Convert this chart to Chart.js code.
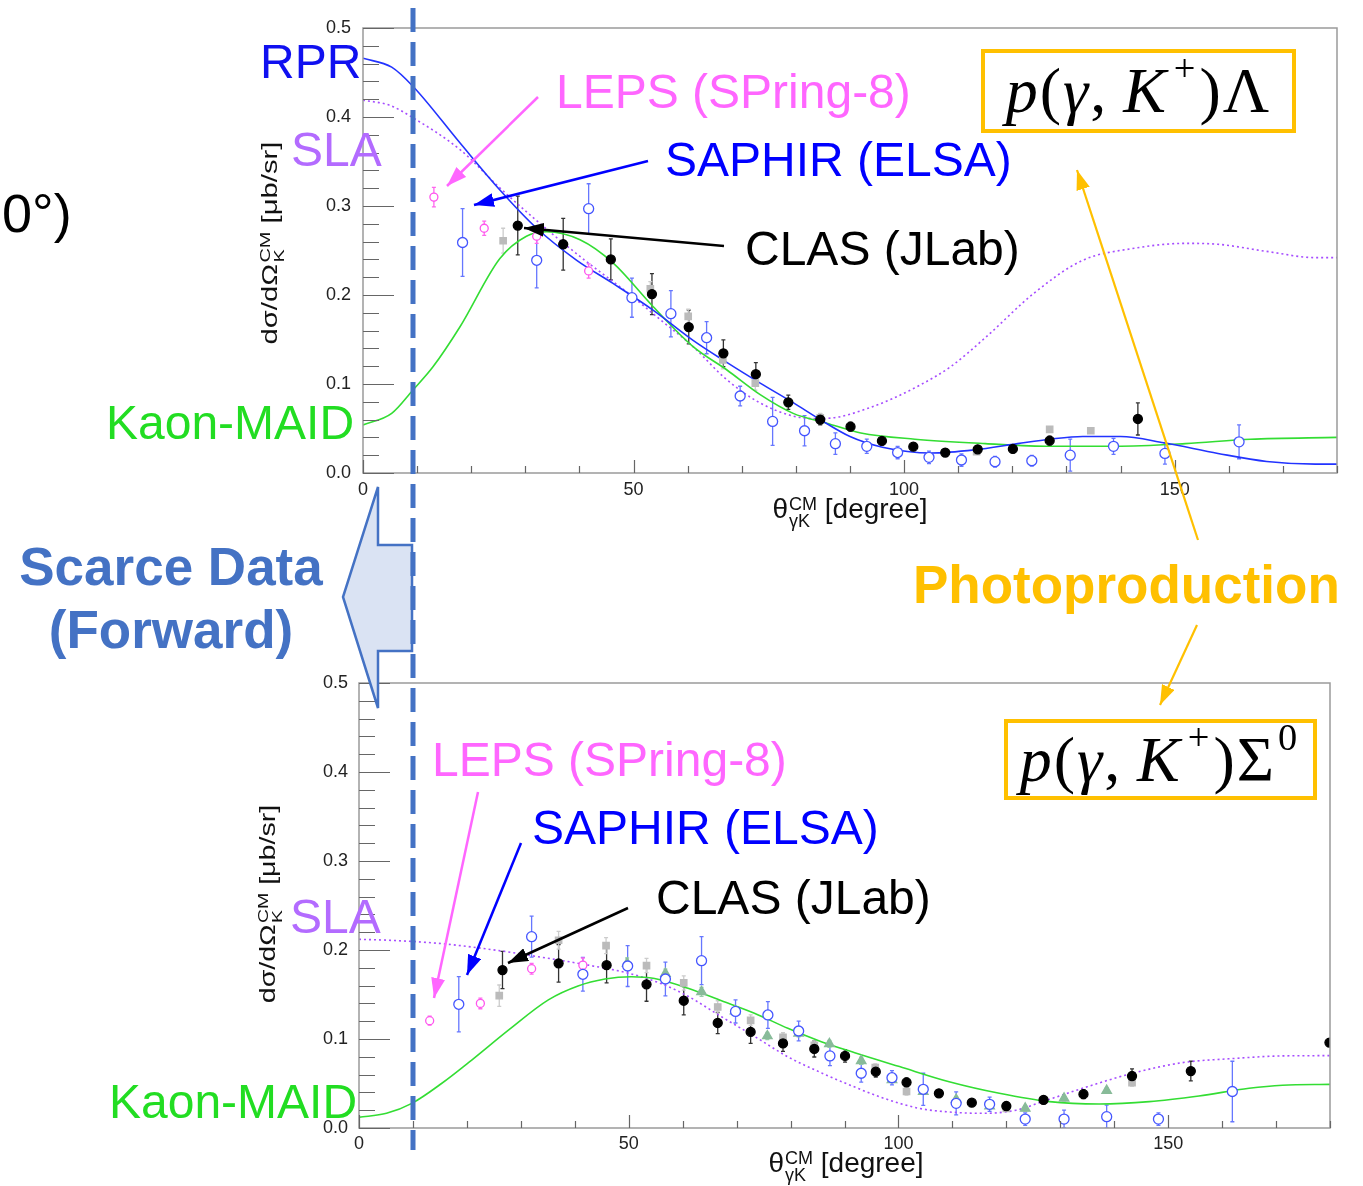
<!DOCTYPE html>
<html><head><meta charset="utf-8">
<script src="https://cdn.jsdelivr.net/npm/chart.js@4.4.0/dist/chart.umd.min.js"></script>
<style>
html,body{margin:0;padding:0;background:#fff;}
body{width:1363px;height:1186px;position:relative;overflow:hidden;font-family:"Liberation Sans",Arial,sans-serif;}
canvas{position:absolute;left:0;}
#c1{top:0;} #c2{top:600px;}
#ov{position:absolute;left:0;top:0;}
.t{position:absolute;white-space:nowrap;line-height:1;font-size:48px;}
.b{font-weight:bold;font-size:53px;}
.mbox{position:absolute;box-sizing:border-box;border:4px solid #FFC000;background:#fff;display:flex;align-items:center;justify-content:center;font-family:"Liberation Serif","DejaVu Serif",serif;font-size:64px;line-height:1;color:#000;letter-spacing:2px;}
.mbox i{font-style:italic;}
.mbox sup{font-size:0.6em;vertical-align:0.8em;line-height:0;margin-left:6px;margin-right:2px;}
.ax{position:absolute;white-space:nowrap;font-size:28px;line-height:1;color:#111;}
.stk{display:inline-block;font-size:18px;line-height:17px;vertical-align:-9px;text-align:left;margin-left:1px;}
.stk span{display:block;}
.ay{position:absolute;white-space:nowrap;font-size:22px;line-height:1;color:#111;}
.ay .stk{font-size:15px;line-height:14px;vertical-align:-7px;}
</style></head><body>
<canvas id="c1" width="1363" height="540"></canvas>
<canvas id="c2" width="1363" height="586"></canvas>

<svg id="ov" width="1363" height="1186" xmlns="http://www.w3.org/2000/svg">
<defs>
<marker id="mPink" viewBox="0 0 10 7" refX="10" refY="3.5" markerWidth="8" markerHeight="5.6" orient="auto" markerUnits="strokeWidth"><path d="M0,0 L10,3.5 L0,7 z" fill="#FF66FF"/></marker>
<marker id="mBlue" viewBox="0 0 10 7" refX="10" refY="3.5" markerWidth="8" markerHeight="5.6" orient="auto" markerUnits="strokeWidth"><path d="M0,0 L10,3.5 L0,7 z" fill="#0000FF"/></marker>
<marker id="mBlack" viewBox="0 0 10 7" refX="10" refY="3.5" markerWidth="8" markerHeight="5.6" orient="auto" markerUnits="strokeWidth"><path d="M0,0 L10,3.5 L0,7 z" fill="#000"/></marker>
<marker id="mOr" viewBox="0 0 10 7" refX="10" refY="3.5" markerWidth="9" markerHeight="6.3" orient="auto" markerUnits="strokeWidth"><path d="M0,0 L10,3.5 L0,7 z" fill="#FFC000"/></marker>
</defs>
<polygon points="378,487 378,545 412,545 412,651 378,651 378,708 343,597" fill="#DAE3F3" stroke="#4472C4" stroke-width="2.5" stroke-linejoin="miter"/>
<line x1="413" y1="8" x2="413" y2="1150" stroke="#4472C4" stroke-width="5" stroke-dasharray="24 10"/>
<line x1="538" y1="97" x2="447" y2="186" stroke="#FF66FF" stroke-width="2.5" marker-end="url(#mPink)"/>
<line x1="648" y1="161" x2="474" y2="205" stroke="#0000FF" stroke-width="2.5" marker-end="url(#mBlue)"/>
<line x1="724" y1="246" x2="524" y2="228" stroke="#000" stroke-width="2.5" marker-end="url(#mBlack)"/>
<line x1="1198" y1="540" x2="1077" y2="170" stroke="#FFC000" stroke-width="2.2" marker-end="url(#mOr)"/>
<line x1="1197" y1="625" x2="1160" y2="705" stroke="#FFC000" stroke-width="2.2" marker-end="url(#mOr)"/>
<line x1="478" y1="792" x2="434" y2="998" stroke="#FF66FF" stroke-width="2.5" marker-end="url(#mPink)"/>
<line x1="521" y1="843" x2="467" y2="975" stroke="#0000FF" stroke-width="2.5" marker-end="url(#mBlue)"/>
<line x1="628" y1="908" x2="508" y2="963" stroke="#000" stroke-width="2.5" marker-end="url(#mBlack)"/>
</svg>

<div class="mbox" style="left:981px;top:49px;width:315px;height:84px;"><span><i>p</i>(<i>γ</i>,&#8201;<i>K</i><sup>+</sup>)Λ</span></div>
<div class="mbox" style="left:1004px;top:719px;width:313px;height:81px;"><span><i>p</i>(<i>γ</i>,&#8201;<i>K</i><sup>+</sup>)Σ<sup style="margin-left:2px">0</sup></span></div>

<div class="t" style="left:2px;top:186px;color:#000;font-size:54px;">0°)</div>
<div class="t" style="left:260px;top:38px;color:#1010F0;">RPR</div>
<div class="t" style="left:291px;top:126px;color:#B36BFF;">SLA</div>
<div class="t" style="left:106px;top:399px;color:#22DD22;">Kaon-MAID</div>
<div class="t" style="left:556px;top:68px;color:#FF66FF;">LEPS (SPring-8)</div>
<div class="t" style="left:665px;top:136px;color:#0000FF;">SAPHIR (ELSA)</div>
<div class="t" style="left:745px;top:225px;color:#000;">CLAS (JLab)</div>
<div class="t b" style="left:913px;top:558px;color:#FFC000;">Photoproduction</div>
<div class="t b" style="left:0px;width:342px;text-align:center;top:540px;color:#4472C4;">Scarce Data</div>
<div class="t b" style="left:0px;width:342px;text-align:center;top:603px;color:#4472C4;">(Forward)</div>
<div class="t" style="left:432px;top:736px;color:#FF66FF;">LEPS (SPring-8)</div>
<div class="t" style="left:532px;top:804px;color:#0000FF;">SAPHIR (ELSA)</div>
<div class="t" style="left:656px;top:874px;color:#000;">CLAS (JLab)</div>
<div class="t" style="left:290px;top:893px;color:#B36BFF;">SLA</div>
<div class="t" style="left:109px;top:1078px;color:#22DD22;">Kaon-MAID</div>

<div class="ax" style="left:850px;top:512px;transform:translate(-50%,-50%);">θ<span class="stk"><span>CM</span><span>γK</span></span> [degree]</div>
<div class="ax" style="left:846px;top:1166px;transform:translate(-50%,-50%);">θ<span class="stk"><span>CM</span><span>γK</span></span> [degree]</div>
<div class="ay" style="left:272px;top:243px;transform:translate(-50%,-50%) rotate(-90deg) scale(1.33,1);">dσ/dΩ<span class="stk"><span>CM</span><span>K</span></span> [μb/sr]</div>
<div class="ay" style="left:270px;top:904px;transform:translate(-50%,-50%) rotate(-90deg) scale(1.3,1);">dσ/dΩ<span class="stk"><span>CM</span><span>K</span></span> [μb/sr]</div>

<script>
// ---------- p(γ,K+)Λ (top) ----------
const thetaRPR_L = [0,5.3,9.3,17.9,25.3,32.1,39.5,46.2,53.6,61,67.3,73.4,79.5,84.5,90,96,105,113,121,127,133,140,148,158,167,176,180];
const rprL       = [0.466,0.456,0.434,0.371,0.318,0.275,0.239,0.213,0.183,0.149,0.124,0.101,0.079,0.060,0.041,0.029,0.0225,0.026,0.033,0.038,0.041,0.041,0.034,0.022,0.013,0.010,0.010];
const thetaSLA_L = [0,5,9,18,25,32,41,49,55,61,67,73,79.5,84,88,93,98,103,108.5,115,124,133,142,152,158,167,176,180];
const slaL       = [0.419,0.413,0.400,0.363,0.322,0.284,0.239,0.202,0.172,0.142,0.106,0.080,0.064,0.061,0.063,0.072,0.084,0.099,0.119,0.152,0.202,0.239,0.252,0.258,0.257,0.249,0.242,0.242];
const thetaMAID_L= [0,5.3,9.2,12.9,17.9,25.3,30.2,33.9,40.1,46.2,53.6,61,67.2,73.4,79.5,85.7,92,102,115,127,139,152,164,180];
const maidL      = [0.054,0.067,0.093,0.119,0.164,0.241,0.266,0.271,0.262,0.236,0.187,0.142,0.116,0.088,0.067,0.056,0.045,0.038,0.033,0.030,0.030,0.033,0.038,0.040];

const lepsL_x = [13.1,22.4,32.1,41.7];
const lepsL_y = [0.310,0.275,0.266,0.227];
const lepsL_e = [0.011,0.008,0.008,0.008];
const saphL_x = [18.4,32.1,41.7,49.7,56.9,63.5,69.7,75.7,81.6,87.3,93.1,98.8,104.6,110.6,116.8,123.6,130.7,138.7,148.2,161.9];
const saphL_y = [0.259,0.239,0.297,0.197,0.179,0.152,0.0865,0.058,0.0475,0.033,0.030,0.023,0.0176,0.0146,0.0127,0.0138,0.020,0.030,0.022,0.035];
const saphL_e = [0.038,0.031,0.028,0.022,0.026,0.018,0.011,0.027,0.017,0.012,0.008,0.007,0.007,0.007,0.006,0.006,0.018,0.009,0.012,0.019];
const clasL_x = [28.6,37.0,45.8,53.4,60.2,66.6,72.6,78.6,84.5,90.1,95.9,101.7,107.6,113.6,120.1,126.9,143.2];
const clasL_y = [0.278,0.257,0.240,0.201,0.164,0.1345,0.111,0.0794,0.060,0.052,0.036,0.0296,0.023,0.0266,0.027,0.0363,0.0607];
const clasL_e = [0.033,0.029,0.023,0.023,0.019,0.015,0.013,0.008,0.006,0.005,0.004,0.004,0.004,0.004,0.004,0.005,0.018];
const clas2L_x = [25.9,53.1,60.1,66.5,72.5,84.5,113.4,126.9,134.5];
const clas2L_y = [0.261,0.207,0.176,0.127,0.101,0.062,0.024,0.049,0.0475];
const clas2L_e = [0.014,0.008,0.008,0.010,0.008,0.005,0.003,0.003,0.003];

// ---------- p(γ,K+)Σ0 (bottom) ----------
const thetaSLA_S = [0,5.4,14.7,23.9,33.2,42.5,49.9,56.1,61,67.2,73.3,79.5,85.7,91.9,97,103.9,109.4,115.6,121.8,126.7,134.1,143.4,152.6,161.9,171.2,180];
const slaS       = [0.212,0.211,0.2075,0.201,0.1925,0.183,0.174,0.162,0.148,0.125,0.103,0.080,0.062,0.046,0.034,0.022,0.018,0.0165,0.020,0.0296,0.0446,0.0615,0.0734,0.078,0.081,0.0813];
const thetaMAID_S= [0,5.1,9.8,15.3,20.9,27.7,35.1,40.6,45.6,50.5,54.8,61,67.2,73.3,79.5,85.7,91.9,100.2,109.4,118.7,128,137.2,146.5,155.7,165,171.2,180];
const maidS      = [0.012,0.0165,0.0277,0.050,0.0764,0.110,0.144,0.1596,0.1674,0.170,0.168,0.157,0.143,0.129,0.112,0.097,0.0846,0.069,0.052,0.039,0.0296,0.027,0.0296,0.036,0.0446,0.048,0.049];

const lepsS_x = [13.1,22.5,32,41.5];
const lepsS_y = [0.1206,0.140,0.179,0.183];
const lepsS_e = [0.005,0.006,0.006,0.008];
const saphS_x = [18.5,32,41.5,49.8,56.8,63.5,69.8,75.8,81.5,87.3,93.1,98.8,104.6,110.7,116.9,123.5,130.7,138.6,148.2,161.9];
const saphS_y = [0.139,0.215,0.1727,0.182,0.1674,0.188,0.131,0.127,0.109,0.081,0.0615,0.0565,0.0435,0.0277,0.0266,0.010,0.010,0.0127,0.010,0.041];
const saphS_e = [0.031,0.023,0.019,0.023,0.019,0.027,0.013,0.015,0.011,0.011,0.010,0.008,0.018,0.013,0.008,0.007,0.010,0.013,0.007,0.034];
const clasS_x = [26.6,37,45.9,53.3,60.2,66.5,72.6,78.6,84.4,90.1,95.8,101.5,107.5,113.6,120,126.9,134.3,143.3,154.2,179.9];
const clasS_y = [0.1775,0.185,0.183,0.1614,0.143,0.118,0.108,0.095,0.0888,0.081,0.0633,0.0513,0.039,0.0285,0.0247,0.0315,0.038,0.0584,0.064,0.096];
const clasS_e = [0.021,0.021,0.020,0.019,0.016,0.012,0.013,0.009,0.009,0.007,0.006,0.005,0.004,0.004,0.004,0.004,0.005,0.008,0.011,0.004];
const clas2S_x = [26,37,45.8,53.3,60.2,66.5,72.6,78.6,84.4,95.7,101.5,120,143.3];
const clas2S_y = [0.1487,0.211,0.205,0.1825,0.163,0.136,0.121,0.102,0.093,0.068,0.041,0.022,0.051];
const clas2S_e = [0.012,0.010,0.009,0.008,0.008,0.007,0.006,0.005,0.005,0.004,0.004,0.003,0.004];
const triS_x = [49.7,56.8,63.5,69.7,75.7,81.5,87.2,93.1,98.8,104.6,110.7,116.9,123.5,130.7,138.6];
const triS_y = [0.185,0.1735,0.153,0.1313,0.1034,0.1064,0.0945,0.0755,0.054,0.041,0.032,0.0247,0.022,0.0334,0.042];
const triS_e = [0.006,0.005,0.005,0.004,0.004,0.004,0.004,0.004,0.003,0.003,0.003,0.003,0.003,0.003,0.003];

const xTickValues = [0,50,100,150];

// ---------- helpers ----------
function pts(xs, ys){ return xs.map((x,i)=>({x:x, y:ys[i]})); }
function curve(xs, ys, color, dash){
  return {data:pts(xs,ys), showLine:true, pointRadius:0, borderColor:color, borderWidth:1.6,
          borderDash:dash||[], cubicInterpolationMode:'monotone', fill:false, order:5};
}
function marks(xs, ys, errs, o){
  return Object.assign({data:pts(xs,ys), errors:errs, showLine:false, order:1, pointBorderWidth:1.3}, o);
}
const sty = {
  leps:{pointStyle:'circle', pointRadius:4, pointBackgroundColor:'#fff', pointBorderColor:'#FF55EE', errColor:'#FF66EE'},
  saph:{pointStyle:'circle', pointRadius:5, pointBackgroundColor:'#fff', pointBorderColor:'#4455FF', errColor:'#6677FF'},
  clas:{pointStyle:'circle', pointRadius:4.5, pointBackgroundColor:'#000', pointBorderColor:'#000', errColor:'#333'},
  clas2:{pointStyle:'rect', pointRadius:4.5, pointBackgroundColor:'#BBBBBB', pointBorderColor:'#BBBBBB', errColor:'#CCCCCC'},
  tri:{pointStyle:'triangle', pointRadius:5.5, pointBackgroundColor:'#88BB99', pointBorderColor:'#88BB99', errColor:'#99CCAA'}
};

const rootStyle = {
  id:'rootStyle',
  beforeDatasetsDraw(chart){
    const {ctx, chartArea:a, scales:{x,y}} = chart;
    ctx.save();
    ctx.beginPath(); ctx.rect(a.left,a.top,a.right-a.left,a.bottom-a.top); ctx.clip();
    chart.data.datasets.forEach(ds=>{
      if(!ds.errors) return;
      ctx.strokeStyle = ds.errColor; ctx.lineWidth = 1.3;
      ds.data.forEach((p,j)=>{
        const e = ds.errors[j];
        const px = x.getPixelForValue(p.x);
        const y1 = y.getPixelForValue(p.y - e), y2 = y.getPixelForValue(p.y + e);
        ctx.beginPath();
        ctx.moveTo(px,y1); ctx.lineTo(px,y2);
        ctx.moveTo(px-2,y1); ctx.lineTo(px+2,y1);
        ctx.moveTo(px-2,y2); ctx.lineTo(px+2,y2);
        ctx.stroke();
      });
    });
    ctx.restore();
  },
  afterDraw(chart){
    const {ctx, chartArea:a, scales:{x,y}} = chart;
    ctx.save();
    ctx.strokeStyle = '#9a9a9a'; ctx.lineWidth = 1.5;
    ctx.strokeRect(a.left, a.top, a.right-a.left, a.bottom-a.top);
    ctx.strokeStyle = '#666'; ctx.lineWidth = 1.2;
    ctx.beginPath();
    for(let i=0;i<=25;i++){
      const py = Math.round(y.getPixelForValue(i*0.02))+0.5;
      const L = (i%5===0)?31:16;
      ctx.moveTo(a.left, py); ctx.lineTo(a.left+L, py);
    }
    for(let v=0; v<=180; v+=10){
      const px = Math.round(x.getPixelForValue(v))+0.5;
      const L = (v%50===0)?13:7;
      ctx.moveTo(px, a.bottom); ctx.lineTo(px, a.bottom-L);
    }
    ctx.stroke();
    ctx.restore();
  }
};

function opts(g){
  const f = {family:'"Liberation Sans", Arial, sans-serif', size:18};
  return {
    responsive:false, animation:false, devicePixelRatio:1, events:[],
    layout:{padding:{left:0, right:g.padR, top:g.padT, bottom:0}},
    plugins:{legend:{display:false}, tooltip:{enabled:false}},
    scales:{
      x:{type:'linear', min:0, max:180,
         grid:{display:false, drawTicks:false}, border:{display:false},
         ticks:{stepSize:50, font:f, color:'#222', padding:g.xPad, maxRotation:0, autoSkip:false},
         afterBuildTicks:s=>{ s.ticks = xTickValues.map(v=>({value:v})); },
         afterFit:s=>{ s.height = g.xH; }},
      y:{type:'linear', min:0, max:0.5,
         grid:{display:false, drawTicks:false}, border:{display:false},
         ticks:{stepSize:0.1, font:f, color:'#222', padding:g.yPad, callback:v=>Number(v).toFixed(1)},
         afterFit:s=>{ s.width = g.yW; }}
    }
  };
}

new Chart(document.getElementById('c1'), {
  type:'scatter',
  data:{datasets:[
    marks(clasL_x, clasL_y, clasL_e, sty.clas),
    marks(saphL_x, saphL_y, saphL_e, Object.assign({order:2}, sty.saph)),
    marks(lepsL_x, lepsL_y, lepsL_e, Object.assign({order:2}, sty.leps)),
    marks(clas2L_x, clas2L_y, clas2L_e, Object.assign({order:3}, sty.clas2)),
    curve(thetaRPR_L, rprL, '#2233FF'),
    curve(thetaMAID_L, maidL, '#33DD33'),
    curve(thetaSLA_L, slaL, '#A64DFF', [2,3])
  ]},
  options:opts({padR:26, padT:28, xH:67, yW:363, xPad:6, yPad:12}),
  plugins:[rootStyle]
});

new Chart(document.getElementById('c2'), {
  type:'scatter',
  data:{datasets:[
    marks(clasS_x, clasS_y, clasS_e, sty.clas),
    marks(saphS_x, saphS_y, saphS_e, Object.assign({order:2}, sty.saph)),
    marks(lepsS_x, lepsS_y, lepsS_e, Object.assign({order:2}, sty.leps)),
    marks(triS_x, triS_y, triS_e, Object.assign({order:3}, sty.tri)),
    marks(clas2S_x, clas2S_y, clas2S_e, Object.assign({order:4}, sty.clas2)),
    curve(thetaMAID_S, maidS, '#33DD33'),
    curve(thetaSLA_S, slaS, '#A64DFF', [2,3])
  ]},
  options:opts({padR:33, padT:83, xH:58, yW:359, xPad:5, yPad:11}),
  plugins:[rootStyle]
});
</script>
</body></html>
